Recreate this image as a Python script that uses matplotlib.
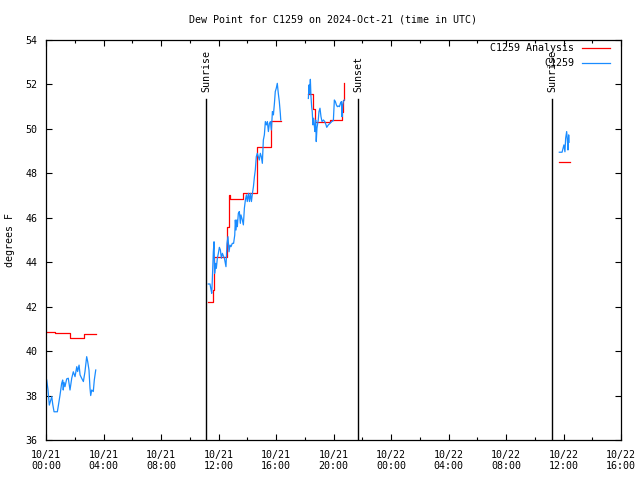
import matplotlib
matplotlib.use('Agg')
import numpy as np
import matplotlib.pyplot as plt
import matplotlib.dates as mdates
from datetime import datetime

# hours since 2024-10-21 00:00 UTC
obs_hours_1 = [0.05, 0.14, 0.23, 0.40, 0.47, 0.56, 0.79, 0.86, 0.97, 1.09, 1.16, 1.20, 1.25, 1.32,
               1.44, 1.55, 1.67, 1.79, 1.90, 2.02, 2.14, 2.20, 2.30, 2.37, 2.48, 2.60, 2.71, 2.83,
               2.90, 2.99, 3.06, 3.11, 3.18, 3.29, 3.36, 3.46]
obs_vals_1 = [38.70, 38.25, 37.57, 37.95, 37.60, 37.27, 37.27, 37.55, 38.00, 38.55, 38.70, 38.25, 38.60, 38.40,
              38.75, 38.78, 38.25, 38.78, 39.07, 38.85, 39.30, 39.08, 39.37, 38.93, 38.78, 38.63, 39.07, 39.75,
              39.53, 39.15, 38.34, 38.00, 38.25, 38.18, 38.70, 39.15]

obs_hours_2 = [11.29, 11.41, 11.46, 11.53, 11.57, 11.64, 11.69, 11.73, 11.80, 11.85, 11.92, 11.99, 12.06,
               12.13, 12.20, 12.27, 12.36, 12.41, 12.52, 12.59, 12.66, 12.73, 12.80, 12.87, 12.96, 13.05,
               13.13, 13.17, 13.22, 13.27, 13.31, 13.38, 13.45, 13.52, 13.56, 13.66, 13.73, 13.80, 13.87,
               13.94, 14.00, 14.08, 14.15, 14.22, 14.29, 14.36, 14.43, 14.50, 14.56, 14.63, 14.70, 14.77,
               14.84, 14.91, 14.98, 15.05, 15.12, 15.19, 15.26, 15.33, 15.40, 15.47, 15.54, 15.61, 15.68,
               15.75, 15.82, 15.89, 15.95, 16.02, 16.09, 16.16, 16.23, 16.30, 16.33]
obs_vals_2 = [43.02, 43.02, 42.83, 42.60, 43.20, 44.47, 44.92, 43.50, 43.95, 43.73, 44.18, 44.40, 44.67,
              44.55, 44.18, 44.40, 44.25, 44.18, 43.80, 44.85, 45.15, 44.47, 44.77, 44.70, 44.85, 44.85,
              45.22, 45.90, 45.45, 45.90, 45.60, 46.20, 46.28, 45.75, 46.13, 45.90, 45.68, 46.43, 46.80,
              47.03, 46.73, 47.10, 46.73, 47.10, 46.73, 47.10, 47.40, 47.85, 48.15, 48.75, 48.90, 48.75,
              48.60, 48.90, 48.75, 48.45, 49.50, 49.73, 50.33, 50.18, 50.33, 49.88, 50.25, 50.33, 49.95,
              50.78, 50.63, 51.15, 51.68, 51.83, 52.05, 51.60, 51.23, 50.70, 50.40]

obs_hours_3 = [18.25, 18.30, 18.34, 18.39, 18.43, 18.48, 18.52, 18.57, 18.62, 18.66, 18.71, 18.76, 18.80,
               18.85, 18.90, 18.94, 18.99, 19.06, 19.13, 19.20, 19.30, 19.39, 19.48, 19.53, 19.64, 19.76,
               19.88, 19.99, 20.06, 20.13, 20.20, 20.27, 20.34, 20.41, 20.48, 20.55, 20.59, 20.64, 20.68,
               20.75]
obs_vals_3 = [51.37, 51.98, 51.60, 52.23, 51.50, 51.00, 50.78, 50.18, 50.48, 50.18, 49.88, 50.40, 49.43,
              50.03, 50.25, 50.40, 50.78, 50.93, 50.55, 50.33, 50.40, 50.33, 50.18, 50.07, 50.18, 50.25,
              50.33, 50.37, 51.30, 51.23, 51.08, 51.00, 51.03, 51.00, 51.15, 51.23, 50.55, 51.08, 51.23,
              51.30]

obs_hours_4 = [35.71, 35.90, 35.97, 36.03, 36.10, 36.15, 36.22, 36.27, 36.31, 36.36, 36.39]
obs_vals_4 = [48.95, 48.95, 49.13, 49.28, 48.97, 49.58, 49.88, 49.50, 49.05, 49.73, 49.40]

ana_hours_1 = [0.00, 0.62, 1.65, 2.65, 3.46]
ana_vals_1 = [40.85, 40.80, 40.59, 40.76, 40.76]
ana_hours_2 = [11.30, 11.62, 11.68, 12.62, 12.70, 12.78, 13.70, 14.65, 15.68, 16.33]
ana_vals_2 = [42.22, 42.75, 44.22, 45.60, 47.02, 46.83, 47.10, 49.20, 50.35, 50.35]
ana_hours_3 = [18.25, 18.57, 18.68, 19.76, 20.57, 20.66, 20.73, 20.76]
ana_vals_3 = [51.57, 50.90, 50.33, 50.40, 50.75, 51.30, 52.05, 52.05]
ana_hours_4 = [35.71, 36.45]
ana_vals_4 = [48.50, 48.50]

sun_hours = [11.13, 21.72, 35.23]
sun_labels = ['Sunrise', 'Sunset', 'Sunrise']

base = mdates.date2num(datetime(2024, 10, 21, 0, 0))


def to_t(hours):
    return base + np.array(hours) / 24.0


plt.rcParams['font.family'] = ['DejaVu Sans Mono']
plt.rcParams['font.size'] = 7.2

fig = plt.figure(figsize=(6.4, 4.8), dpi=100)
ax = fig.add_axes([46 / 640, 40 / 480, 575 / 640, 400 / 480])

red = '#ff0000'
blue = '#1a8cff'
ana = [(ana_hours_1, ana_vals_1), (ana_hours_2, ana_vals_2), (ana_hours_3, ana_vals_3), (ana_hours_4, ana_vals_4)]
obs = [(obs_hours_1, obs_vals_1), (obs_hours_2, obs_vals_2), (obs_hours_3, obs_vals_3), (obs_hours_4, obs_vals_4)]
for i, (h, v) in enumerate(ana):
    ax.plot(to_t(h), v, color=red, lw=0.9, drawstyle='steps-post',
            label='C1259 Analysis' if i == 0 else None)
for i, (h, v) in enumerate(obs):
    ax.plot(to_t(h), v, color=blue, lw=0.9, label='C1259' if i == 0 else None)

for h, lab in zip(sun_hours, sun_labels):
    ax.axvline(to_t(h), ymin=0, ymax=0.853, color='black', lw=1.0)
    ax.text(to_t(h), 0.87, lab, rotation=90, ha='center', va='bottom',
            transform=ax.get_xaxis_transform())

ax.set_xlim(base, base + 40 / 24)
ax.set_ylim(36, 54)
ax.set_yticks(np.arange(36, 55, 2))
ax.xaxis.set_major_locator(mdates.HourLocator(byhour=range(0, 24, 4)))
ax.xaxis.set_minor_locator(mdates.HourLocator(byhour=range(0, 24, 2)))
ax.xaxis.set_major_formatter(mdates.DateFormatter('%m/%d\n%H:%M'))
ax.tick_params(direction='in', top=True, right=True, length=4, width=0.8, pad=7)
ax.tick_params(axis='y', pad=6)
ax.tick_params(which='minor', direction='in', top=True, bottom=True, length=2.5, width=0.8)
for lab in ax.get_xticklabels():
    lab.set_linespacing(1.2)
for s in ax.spines.values():
    s.set_linewidth(0.9)

ax.legend(loc='upper right', bbox_to_anchor=(610 / 640, 1 - 43 / 480),
          bbox_transform=fig.transFigure, frameon=False, markerfirst=False,
          handlelength=2.8, handletextpad=0.8, borderpad=0, borderaxespad=0,
          labelspacing=0.5)

fig.text(333 / 640, 1 - 19 / 480, 'Dew Point for C1259 on 2024-Oct-21 (time in UTC)',
         ha='center', va='center')
fig.text(10 / 640, 0.5, 'degrees F', rotation=90, ha='center', va='center')

fig.savefig('out.png', dpi=100)
